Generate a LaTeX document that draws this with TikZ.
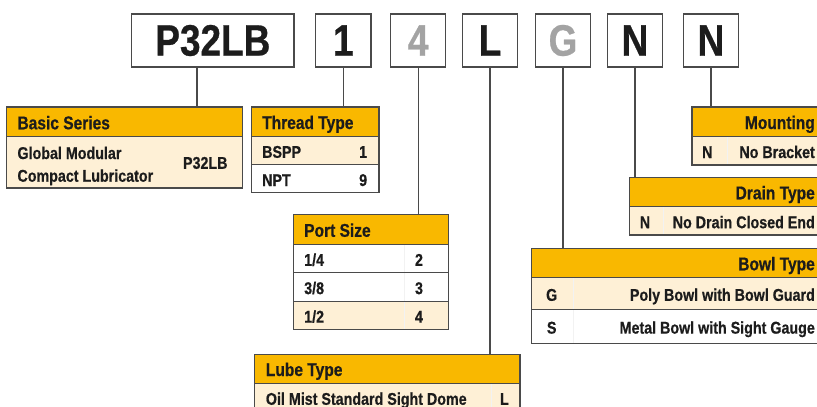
\documentclass[tikz,border=0pt]{standalone}
\usepackage{fontspec}
\setmainfont{Liberation Sans}[FakeStretch=0.84, BoldFeatures={FakeBold=0.6}]
\definecolor{hdr}{HTML}{F9B800}
\definecolor{cream}{HTML}{FEF0D6}
\definecolor{bord}{HTML}{4A4A4A}
\definecolor{dim}{HTML}{A3A3A3}
\definecolor{ink}{HTML}{1C1C1C}
\tikzset{
  letterbox/.style={draw=bord, line width=1.4pt, fill=white, inner sep=0pt,
    minimum height=53pt, text=ink, font=\fontsize{44}{44}\selectfont\bfseries},
  conn/.style={draw=bord, line width=1.1pt},
  hdrcell/.style={fill=hdr, inner sep=0pt, anchor=north west, draw=none},
  hdrtxt/.style={inner sep=0pt, anchor=base west, text=ink, font=\fontsize{18.5}{18.5}\selectfont\bfseries},
  hdrtxtr/.style={hdrtxt, anchor=base east},
  bodytxt/.style={inner sep=0pt, anchor=base west, text=ink, font=\fontsize{17}{17}\selectfont\bfseries},
  bodytxtr/.style={bodytxt, anchor=base east},
  bodytxtc/.style={bodytxt, anchor=base},
  tabborder/.style={draw=bord, line width=1.2pt},
  rowsep/.style={draw=bord, line width=1pt},
  coldiv/.style={draw=black!5, line width=0.6pt}
}
\begin{document}
\begin{tikzpicture}[x=1pt,y=-1pt]
\useasboundingbox (0,0) rectangle (817,407);
\clip (0,0) rectangle (817,407);

% ---------- code letter boxes ----------
\node[letterbox, minimum width=162.3pt] (p)   at (212.85,40.5) {P32LB};
\node[letterbox, minimum width=55.3pt]  (one) at (343.35,40.5) {1};
\node[letterbox, minimum width=55pt, text=dim] (four) at (418.2,40.5) {4};
\node[letterbox, minimum width=54.6pt]  (ell) at (490,40.5) {L};
\node[letterbox, minimum width=55.4pt, text=dim] (gee) at (563,40.5) {G};
\node[letterbox, minimum width=55.4pt]  (enA) at (635,40.5) {N};
\node[letterbox, minimum width=55.4pt]  (enB) at (711,40.5) {N};

% ---------- Basic Series ----------
\fill[cream] (6.3,136.7) rectangle (242.7,188);
\node[hdrcell, minimum width=236.4pt, minimum height=29.7pt] (bsH) at (6.3,107) {};
\draw[rowsep] (6.3,136.7) -- (242.7,136.7);
\draw[tabborder] (6.3,107) rectangle (242.7,188);
\node[hdrtxt] (bsT) at (17.3,129.3) {Basic Series};
\node[bodytxt] (bs1) at (17.3,159) {Global Modular};
\node[bodytxt] (bs2) at (17.3,181.7) {Compact Lubricator};
\node[bodytxtr] (bsV) at (227.7,168.8) {P32LB};
\coordinate (pc) at (197,0);
\draw[conn] (p.south -| pc) -- (bsH.north -| pc);

% ---------- Thread Type ----------
\fill[cream] (251.7,136) rectangle (379,164.7);
\node[hdrcell, minimum width=127.3pt, minimum height=29pt] (ttH) at (251.7,107) {};
\draw[rowsep] (251.7,136) -- (379,136);
\draw[rowsep] (251.7,164.7) -- (379,164.7);
\draw[tabborder] (251.7,107) rectangle (379,192.7);
\node[hdrtxt] (ttT) at (262,129) {Thread Type};
\node[bodytxt] (tt1) at (262,157.8) {BSPP};
\node[bodytxtr] (tt1v) at (367.3,157.8) {1};
\node[bodytxt] (tt2) at (262,186) {NPT};
\node[bodytxtr] (tt2v) at (367.3,186) {9};
\draw[conn] (one.south) -- (one.south |- ttH.north);

% ---------- Port Size ----------
\fill[cream] (293.3,301) rectangle (448.3,329.7);
\node[hdrcell, minimum width=155pt, minimum height=29.6pt] (psH) at (293.3,214.7) {};
\draw[coldiv] (404.3,244.3) -- (404.3,329.7);
\draw[rowsep] (293.3,244.3) -- (448.3,244.3);
\draw[rowsep] (293.3,272.7) -- (448.3,272.7);
\draw[rowsep] (293.3,301) -- (448.3,301);
\draw[tabborder] (293.3,214.7) rectangle (448.3,329.7);
\node[hdrtxt] (psT) at (304,236.8) {Port Size};
\node[bodytxt] (ps1) at (304,265.8) {1/4};
\node[bodytxtc] (ps1v) at (419,265.8) {2};
\node[bodytxt] (ps2) at (304,294.1) {3/8};
\node[bodytxtc] (ps2v) at (419,294.1) {3};
\node[bodytxt] (ps3) at (304,322.6) {1/2};
\node[bodytxtc] (ps3v) at (419,322.6) {4};
\draw[conn] (four.south) -- (four.south |- psH.north);

% ---------- Lube Type ----------
\fill[cream] (254.3,383.3) rectangle (520,412);
\node[hdrcell, minimum width=265.7pt, minimum height=29pt] (ltH) at (254.3,354.3) {};
\draw[coldiv] (491.7,383.3) -- (491.7,412);
\draw[rowsep] (254.3,383.3) -- (520,383.3);
\draw[tabborder] (254.3,354.3) rectangle (520,412);
\node[hdrtxt] (ltT) at (265.7,376) {Lube Type};
\node[bodytxt] (lt1) at (265.7,404.8) {Oil Mist Standard Sight Dome};
\node[bodytxtr] (lt1v) at (509,404.8) {L};
\draw[conn] (ell.south) -- (ell.south |- ltH.north);

% ---------- Bowl Type ----------
\fill[cream] (531.7,277.7) rectangle (830,309.3);
\node[hdrcell, minimum width=298.3pt, minimum height=29.4pt] (btH) at (531.7,248.3) {};
\draw[coldiv] (573.3,277.7) -- (573.3,343.3);
\draw[rowsep] (531.7,277.7) -- (830,277.7);
\draw[rowsep] (531.7,309.3) -- (830,309.3);
\draw[tabborder] (531.7,248.3) rectangle (830,343.3);
\node[hdrtxtr] (btT) at (815,270.3) {Bowl Type};
\node[bodytxtc] (bt1k) at (551.7,300.8) {G};
\node[bodytxtr] (bt1) at (815,300.8) {Poly Bowl with Bowl Guard};
\node[bodytxtc] (bt2k) at (551.7,333.6) {S};
\node[bodytxtr] (bt2) at (815,333.6) {Metal Bowl with Sight Gauge};
\draw[conn] (gee.south) -- (gee.south |- btH.north);

% ---------- Drain Type ----------
\fill[cream] (629.7,206.7) rectangle (830,235);
\node[hdrcell, minimum width=200.3pt, minimum height=29.4pt] (dtH) at (629.7,177.3) {};
\draw[coldiv] (663.3,206.7) -- (663.3,235);
\draw[rowsep] (629.7,206.7) -- (830,206.7);
\draw[tabborder] (629.7,177.3) rectangle (830,235);
\node[hdrtxtr] (dtT) at (815,199.3) {Drain Type};
\node[bodytxtc] (dt1k) at (645,228.2) {N};
\node[bodytxtr] (dt1) at (815,228.2) {No Drain Closed End};
\draw[conn] (enA.south) -- (enA.south |- dtH.north);

% ---------- Mounting ----------
\fill[cream] (692,136.3) rectangle (830,165);
\node[hdrcell, minimum width=138pt, minimum height=29.3pt] (mtH) at (692,107) {};
\draw[coldiv] (727.7,136.3) -- (727.7,165);
\draw[rowsep] (692,136.3) -- (830,136.3);
\draw[tabborder] (692,107) rectangle (830,165);
\node[hdrtxtr] (mtT) at (815,129) {Mounting};
\node[bodytxtc] (mt1k) at (707.3,158) {N};
\node[bodytxtr] (mt1) at (815,158) {No Bracket};
\draw[conn] (enB.south) -- (enB.south |- mtH.north);
\end{tikzpicture}
\end{document}
